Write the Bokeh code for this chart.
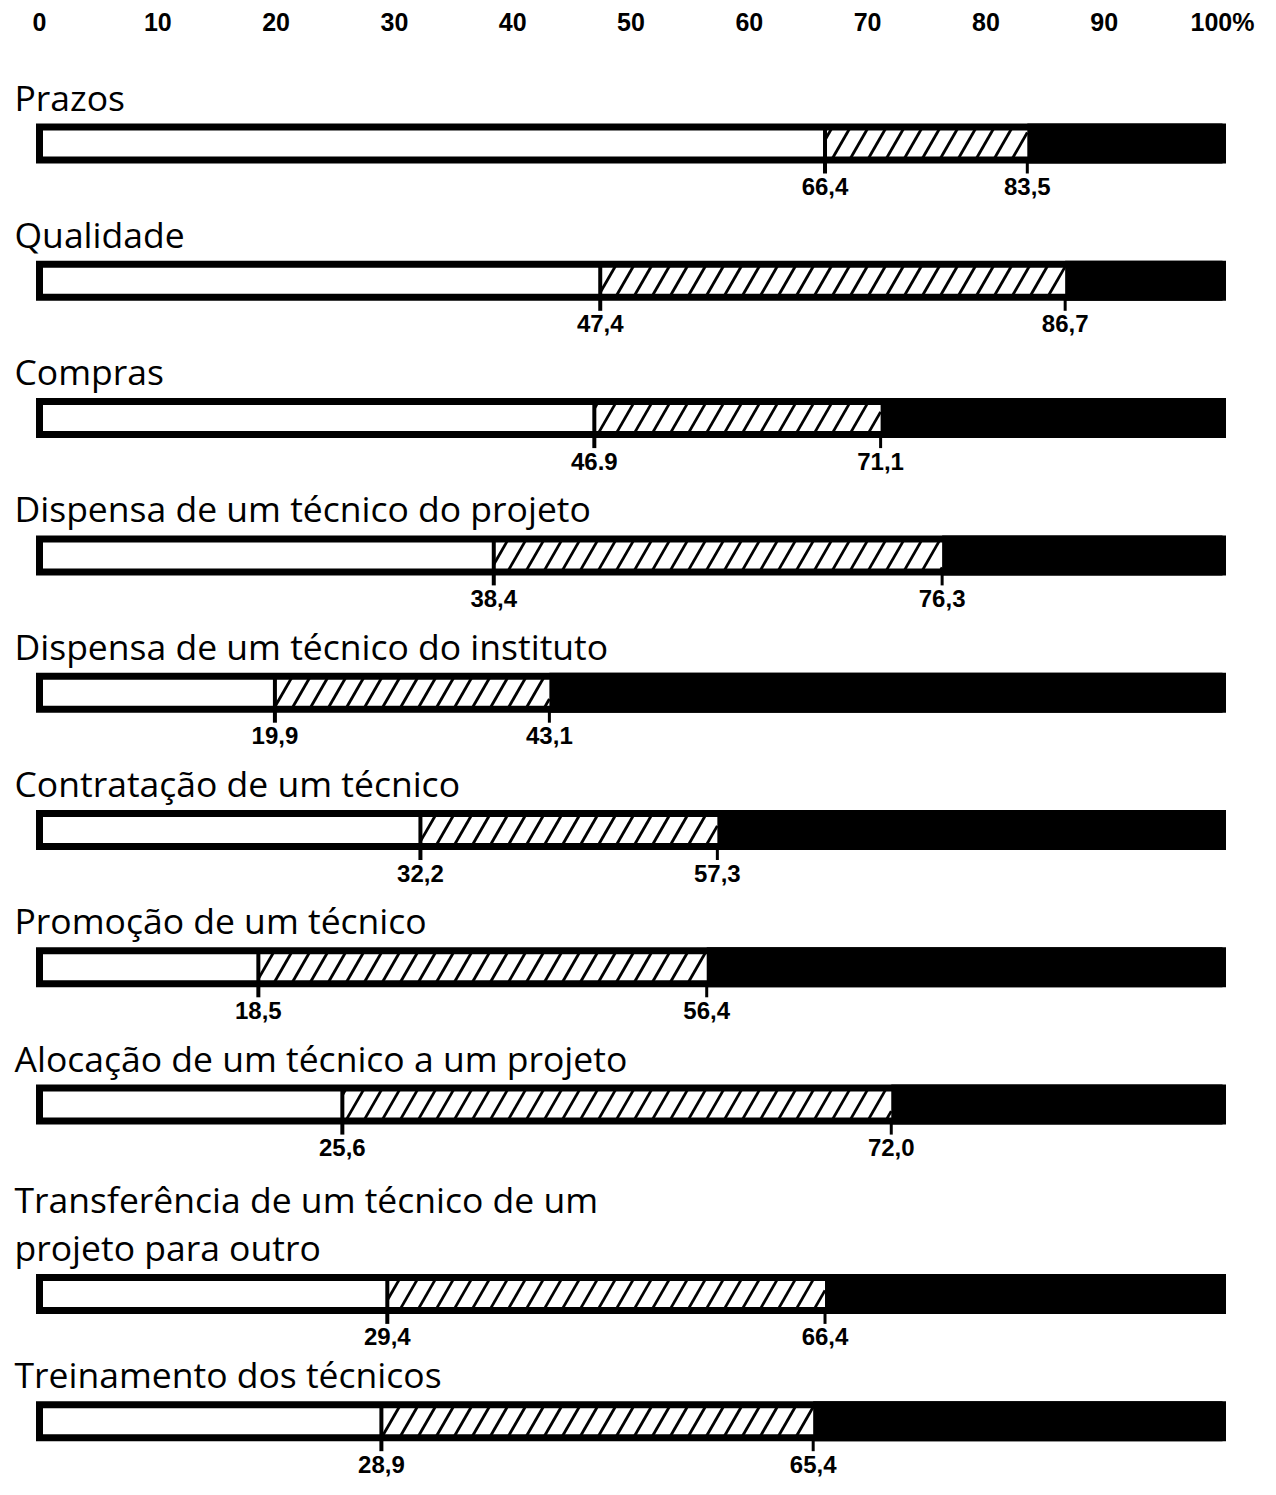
import math
from bokeh.plotting import figure
from bokeh.models import Range1d, FixedTicker, ColumnDataSource
from bokeh.core.properties import value
from bokeh.embed import file_html
from bokeh.resources import INLINE

# ---------------- data ----------------
categories = [
    "Prazos",
    "Qualidade",
    "Compras",
    "Dispensa de um técnico do projeto",
    "Dispensa de um técnico do instituto",
    "Contratação de um técnico",
    "Promoção de um técnico",
    "Alocação de um técnico a um projeto",
    "Transferência de um técnico de um\nprojeto para outro",
    "Treinamento dos técnicos",
]
white_end = [66.4, 47.4, 46.9, 38.4, 19.9, 32.2, 18.5, 25.6, 29.4, 28.9]
hatch_end = [83.5, 86.7, 71.1, 76.3, 43.1, 57.3, 56.4, 72.0, 66.4, 65.4]
white_labels = ["66,4", "47,4", "46.9", "38,4", "19,9", "32,2", "18,5", "25,6", "29,4", "28,9"]
hatch_labels = ["83,5", "86,7", "71,1", "76,3", "43,1", "57,3", "56,4", "72,0", "66,4", "65,4"]
tick_values = [0, 10, 20, 30, 40, 50, 60, 70, 80, 90, 100]
tick_labels = ["0", "10", "20", "30", "40", "50", "60", "70", "80", "90", "100%"]

# ---------------- layout (y data = canvas pixels) ----------------
W, H = 1260, 1479
PX = 11.83          # pixels per percent
X0 = 39             # canvas x of 0 %
TOP = 60            # canvas y of frame top
ROW0, STEP = 143, 137.3
EXTRA = [0, 0, 0, 0, 0, 0, 0, 0, 52, 42]   # room for the two-line label
BAR_H = 33          # stroke-centre height of bar outline
LW = 7
HATCH_SP = 18 / PX  # hatch spacing (data units)
HATCH_DX = 19 / PX  # horizontal run of one hatch stroke across the bar

n = len(categories)
ys = [ROW0 + STEP * i + EXTRA[i] for i in range(n)]

src = ColumnDataSource(dict(
    y=ys, cat=categories, w=white_end, h=hatch_end,
    zero=[0] * n, full=[100] * n,
    wl=white_labels, hl=hatch_labels,
    lab_y=[y - 23 for y in ys],
    val_y=[y + 43 for y in ys],
    div_top=[y - BAR_H / 2 for y in ys],
    tick_bot=[y + 30 for y in ys],
    bar_bot=[y + BAR_H / 2 for y in ys],
))

# hatch strokes ("/") clipped to each hatched segment
hx0, hy0, hx1, hy1 = [], [], [], []
for y, a, b in zip(ys, white_end, hatch_end):
    yb = y + BAR_H / 2
    k0 = math.floor((a - HATCH_DX) / HATCH_SP)
    k1 = math.ceil(b / HATCH_SP)
    for k in range(k0, k1 + 1):
        xb = k * HATCH_SP
        t0 = max(0.0, (a - xb) / HATCH_DX)
        t1 = min(1.0, (b - xb) / HATCH_DX)
        if t1 > t0:
            hx0.append(xb + HATCH_DX * t0)
            hy0.append(yb - BAR_H * t0)
            hx1.append(xb + HATCH_DX * t1)
            hy1.append(yb - BAR_H * t1)
hatch_src = ColumnDataSource(dict(x0=hx0, y0=hy0, x1=hx1, y1=hy1))

p = figure(
    width=W, height=H, output_backend="svg", toolbar_location=None,
    x_range=Range1d(-X0 / PX, (W - X0) / PX),
    y_range=Range1d(H, TOP),
    x_axis_location="above",
    min_border_left=0, min_border_right=0, min_border_top=TOP, min_border_bottom=0,
)
p.yaxis.visible = False
p.xgrid.visible = False
p.ygrid.visible = False
p.outline_line_color = None
p.background_fill_color = "white"
p.border_fill_color = "white"

ax = p.xaxis[0]
ax.ticker = FixedTicker(ticks=tick_values)
ax.major_label_overrides = {v: t for v, t in zip(tick_values, tick_labels)}
ax.axis_line_color = None
ax.major_tick_line_color = None
ax.minor_tick_line_color = None
ax.major_tick_out = 0
ax.major_tick_in = 0
ax.major_label_standoff = 25
ax.major_label_text_font = "Liberation Sans"
ax.major_label_text_font_size = "25px"
ax.major_label_text_font_style = "bold"
ax.major_label_text_color = "black"

# white base
p.hbar(y="y", left="zero", right="full", height=BAR_H, source=src,
       fill_color="white", line_color=None)
# hatch strokes
p.segment(x0="x0", y0="y0", x1="x1", y1="y1", source=hatch_src,
          line_color="black", line_width=2.8)
# black part
p.hbar(y="y", left="h", right="full", height=BAR_H + LW, source=src,
       fill_color="black", line_color=None)
# outline
p.hbar(y="y", left="zero", right="full", height=BAR_H, source=src,
       fill_color=None, line_color="black", line_width=LW, line_join="miter")
# divider + tick at white end
p.segment(x0="w", y0="div_top", x1="w", y1="tick_bot", source=src,
          line_color="black", line_width=4)
# tick at hatch end
p.segment(x0="h", y0="bar_bot", x1="h", y1="tick_bot", source=src,
          line_color="black", line_width=3)

# category labels
p.text(x="zero", y="lab_y", text="cat", source=src, x_offset=-25,
       text_font=value("Open Sans"), text_font_size="35.5px",
       text_baseline="bottom", text_align="left", text_color="black",
       text_line_height=1.0)
# value labels
for col in ("w", "h"):
    p.text(x=col, y="val_y", text=col + "l", source=src,
           text_font=value("Liberation Sans"), text_font_size="24px",
           text_font_style="bold", text_baseline="middle", text_align="center",
           text_color="black")

open("out.html", "w").write(file_html(p, INLINE))
